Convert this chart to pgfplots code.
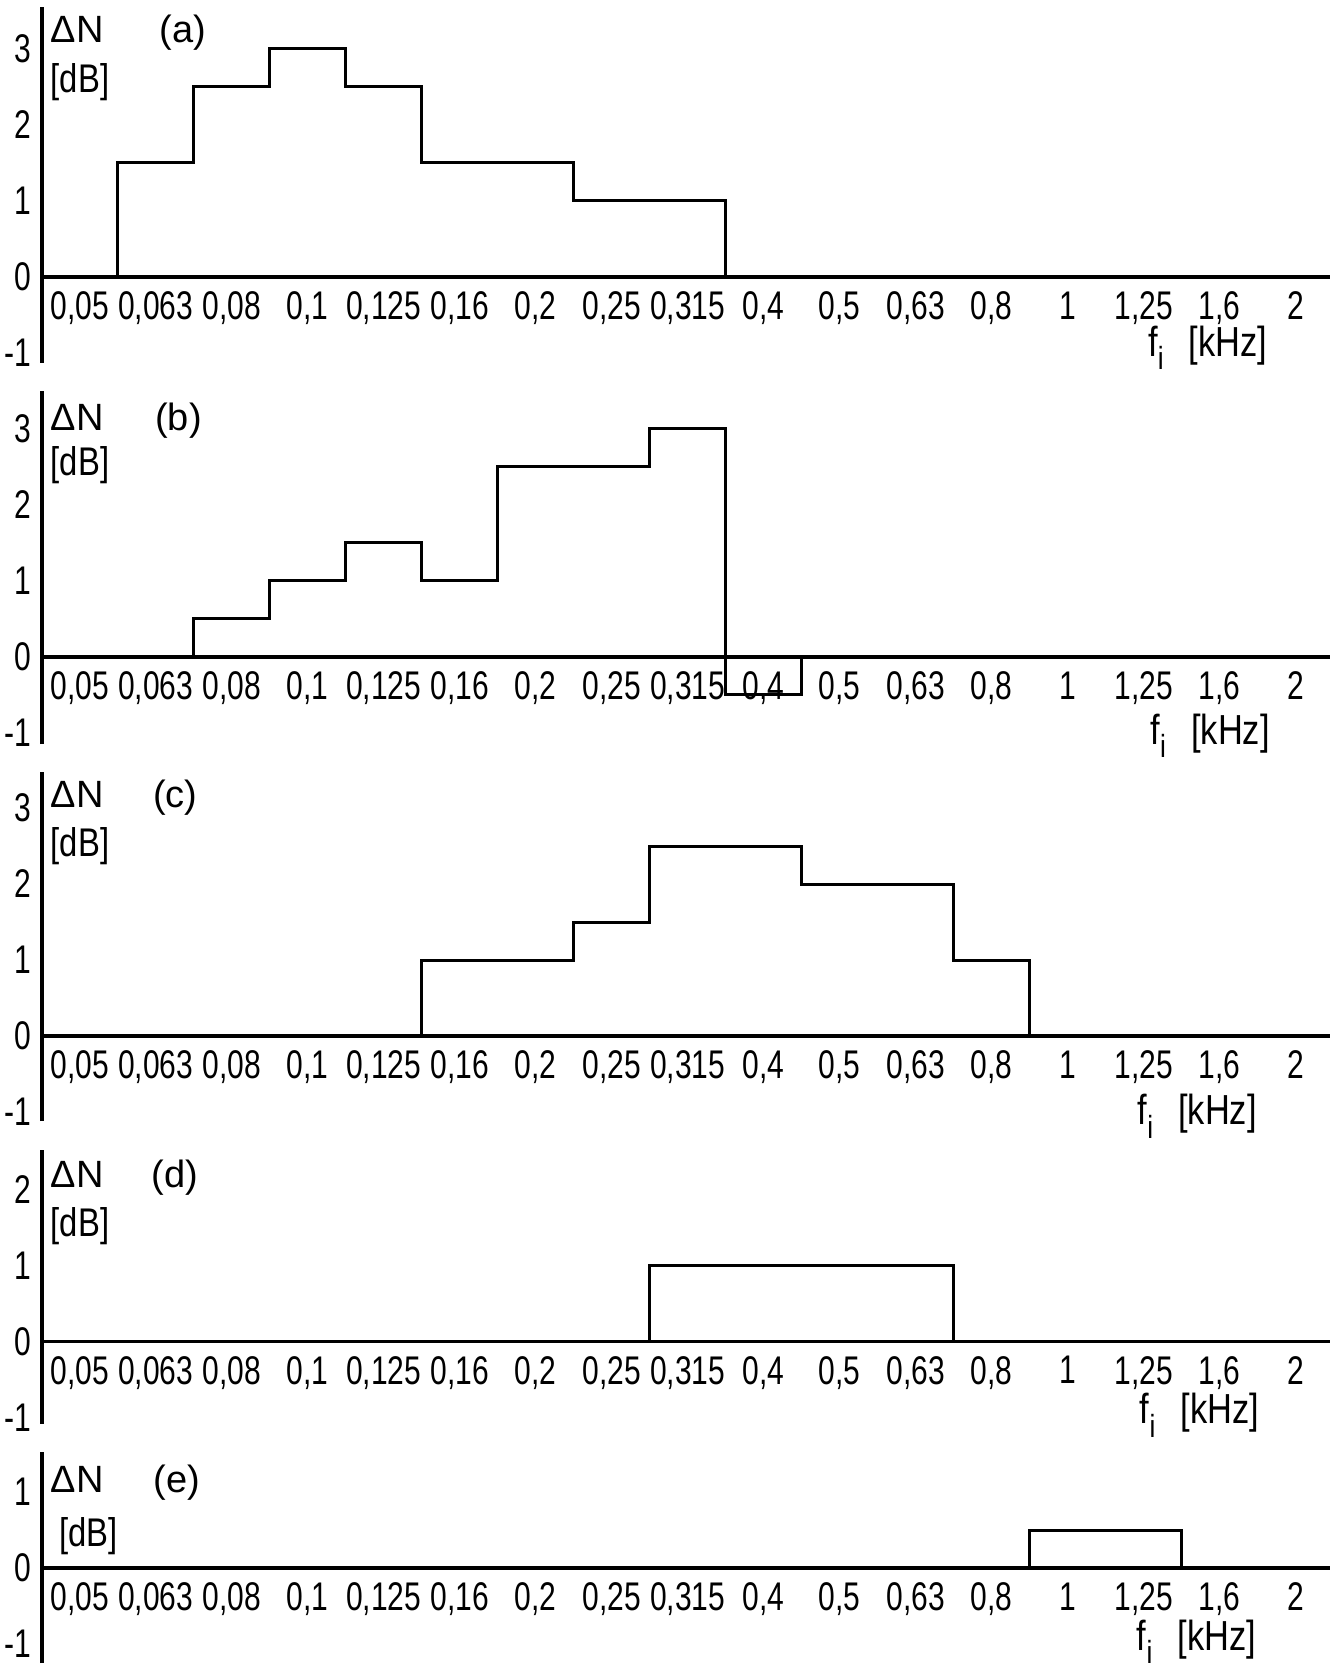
\documentclass[border=0pt]{standalone}
\usepackage{fontspec}
\setmainfont{Liberation Sans}
\newfontfamily\tickfont{Liberation Sans}[FakeStretch=0.75]
\newfontfamily\dbfont{Liberation Sans}[FakeStretch=0.82]
\usepackage{pgfplots}
\usepackage{pgfplotstable}
\pgfplotsset{compat=1.18}

% category index i (0 = 0,05 kHz ... 16 = 2 kHz), level v in dB
\pgfplotstableread{
i v
0 0
1 1.5
2 2.5
3 3
4 2.5
5 1.5
6 1.5
7 1
8 1
9 0
}\dataa
\pgfplotstableread{
i v
1 0
2 0.5
3 1
4 1.5
5 1
6 2.5
7 2.5
8 3
9 -0.5
10 0
}\datab
\pgfplotstableread{
i v
4 0
5 1
6 1
7 1.5
8 2.5
9 2.5
10 2
11 2
12 1
13 0
}\datac
\pgfplotstableread{
i v
7 0
8 1
9 1
10 1
11 1
12 0
}\datad
\pgfplotstableread{
i v
12 0
13 0.5
14 0.5
15 0
}\datae

\pgfplotsset{
 panel/.style={
  anchor=south west,
  x=19pt, y=19pt,
  xmin=-0.5, xmax=16.45,
  axis x line=middle, axis y line=left,
  axis line style={line width=0.9pt,-},
  hide obscured x ticks=false, hide obscured y ticks=false,
  xtick={0,...,16},
  xticklabels={{0,05},{0,063},{0,08},{0,1},{0,125},{0,16},{0,2},{0,25},{0,315},{0,4},{0,5},{0,63},{0,8},{1},{1,25},{1,6},{2}},
  major tick length=0pt,
  tick style={draw=none},
  xticklabel style={font=\tickfont\fontsize{10}{11}\selectfont, anchor=north, inner sep=0pt, yshift=-3.5pt},
  yticklabel style={font=\tickfont\fontsize{10}{11}\selectfont, anchor=east, inner sep=0pt, xshift=-2.5pt},
  clip=false,
 },
 stepline/.style={const plot, line width=0.75pt, black, no markers},
}
\tikzset{
 dn/.style={anchor=base west, inner sep=0pt, font=\fontsize{9.5}{10}\selectfont},
 db/.style={anchor=base west, inner sep=0pt, font=\dbfont\fontsize{10}{11}\selectfont},
 pl/.style={anchor=base, inner sep=0pt, font=\fontsize{9.5}{10}\selectfont},
 fl/.style={anchor=base west, inner sep=0pt, font=\dbfont\fontsize{10.5}{11}\selectfont},
}
\newcommand{\flab}{f\raisebox{-0.6ex}{\fontsize{8}{8}\selectfont i}\hspace{0.6em}[kHz]}

\begin{document}
\begin{tikzpicture}
\useasboundingbox (0,0) rectangle (335.25pt,-416.5pt);

% (a)
\begin{axis}[panel, at={(10.43pt,-90.72pt)}, ymin=-1.13, ymax=3.55,
  ytick={-1,0,1,2,3}, yticklabels={-1,0,1,2,3}]
\addplot[stepline] table[x expr=\thisrow{i}-0.5, y=v] {\dataa};
\node[dn] at (axis cs:-0.39,3.08) {ΔN};
\node[db] at (axis cs:-0.39,2.43) {[dB]};
\node[pl] at (axis cs:1.36,3.08) {(a)};
\node[fl] at (axis cs:14.05,-1.04) {\flab};
\end{axis}

% (b)
\begin{axis}[panel, at={(10.43pt,-186.05pt)}, ymin=-1.15, ymax=3.5,
  ytick={-1,0,1,2,3}, yticklabels={-1,0,1,2,3}]
\addplot[stepline] table[x expr=\thisrow{i}-0.5, y=v] {\datab};
\node[dn] at (axis cs:-0.39,2.98) {ΔN};
\node[db] at (axis cs:-0.39,2.39) {[dB]};
\node[pl] at (axis cs:1.3,2.98) {(b)};
\node[fl] at (axis cs:14.08,-1.15) {\flab};
\end{axis}

% (c)
\begin{axis}[panel, at={(10.43pt,-280.28pt)}, ymin=-1.12, ymax=3.47,
  ytick={-1,0,1,2,3}, yticklabels={-1,0,1,2,3}]
\addplot[stepline] table[x expr=\thisrow{i}-0.5, y=v] {\datac};
\node[dn] at (axis cs:-0.39,3.0) {ΔN};
\node[db] at (axis cs:-0.39,2.36) {[dB]};
\node[pl] at (axis cs:1.26,3.0) {(c)};
\node[fl] at (axis cs:13.91,-1.17) {\flab};
\end{axis}

% (d)
\begin{axis}[panel, at={(10.43pt,-355.92pt)}, ymin=-1.08, ymax=2.52,
  ytick={-1,0,1,2}, yticklabels={-1,0,1,2}]
\addplot[stepline] table[x expr=\thisrow{i}-0.5, y=v] {\datad};
\node[dn] at (axis cs:-0.39,2.03) {ΔN};
\node[db] at (axis cs:-0.39,1.38) {[dB]};
\node[pl] at (axis cs:1.25,2.03) {(d)};
\node[fl] at (axis cs:13.94,-1.08) {\flab};
\end{axis}

% (e)
\begin{axis}[panel, at={(10.43pt,-415.75pt)}, ymin=-1.25, ymax=1.53,
  ytick={-1,0,1}, yticklabels={-1,0,1}]
\addplot[stepline] table[x expr=\thisrow{i}-0.5, y=v] {\datae};
\node[dn] at (axis cs:-0.39,1.0) {ΔN};
\node[db] at (axis cs:-0.28,0.28) {[dB]};
\node[pl] at (axis cs:1.28,1.0) {(e)};
\node[fl] at (axis cs:13.9,-1.08) {\flab};
\end{axis}
\end{tikzpicture}
\end{document}
